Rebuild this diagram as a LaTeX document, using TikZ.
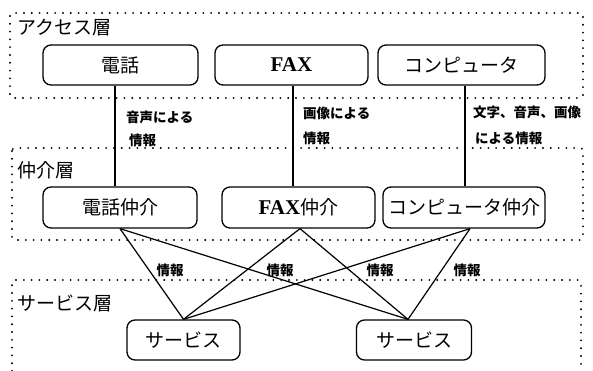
\documentclass[tikz,border=0pt]{standalone}
\usepackage{fontspec}
\setmainfont{Liberation Serif}
\newfontfamily\jp{Noto Sans CJK JP}
\tikzset{
  layerbox/.style={line width=2.1pt, line cap=round, dash pattern=on 0pt off 7.8pt},
  unitbox/.style={draw, line width=1.3pt, rounded corners=8pt, minimum height=40pt, inner sep=0pt, font=\jp\fontsize{19}{19}\selectfont},
  layerlabel/.style={anchor=west, inner sep=0pt, font=\jp\fontsize{19}{19}\selectfont},
  infolabel/.style={anchor=west, inner sep=0pt, font=\jp\bfseries\fontsize{13.5}{13.5}\selectfont},
  infoc/.style={inner sep=0pt, font=\jp\bfseries\fontsize{13.5}{13.5}\selectfont},
  latin/.style={},
  link/.style={line width=1.2pt}
}
\newcommand{\fax}{{\rmfamily\bfseries\fontsize{21}{21}\selectfont FAX}}
\begin{document}
\begin{tikzpicture}[x=1pt,y=-1pt]
\useasboundingbox[fill=white] (0,0) rectangle (593,371);
% layers
\draw[layerbox, rounded corners=3pt] (10,13) rectangle (583,98);
\draw[layerbox, rounded corners=3pt] (12,148) rectangle (583,240);
\draw[layerbox, rounded corners=3pt] (12,371) -- (12,280) -- (581,280) -- (581,371);
\node[layerlabel] (la) at (17,28) {アクセス層};
\node[layerlabel] (lm) at (17,170) {仲介層};
\node[layerlabel] (ls) at (17,303) {サービス層};
% access
\node[unitbox, minimum width=155pt] (t1) at (120.5,65) {電話};
\node[unitbox, minimum width=153pt] (t2) at (291.5,65) {\fax};
\node[unitbox, minimum width=167pt] (t3) at (461.5,65) {コンピュータ};
% mediation
\node[unitbox, minimum width=154pt, minimum height=41pt] (m1) at (120,207.5) {電話仲介};
\node[unitbox, minimum width=153pt, minimum height=41pt] (m2) at (298.5,207.5) {\fax 仲介};
\node[unitbox, minimum width=162pt, minimum height=41pt] (m3) at (464,207.5) {コンピュータ仲介};
% services
\node[unitbox, minimum width=113pt] (s1) at (183.5,340) {サービス};
\node[unitbox, minimum width=115pt] (s2) at (414,340) {サービス};
% vertical links
\draw[link] ([xshift=-5.5pt]t1.south) -- ([xshift=-5.5pt]t1.south |- m1.north);
\draw[link] ([xshift=1.5pt]t2.south) -- ([xshift=1.5pt]t2.south |- m2.north);
\draw[link] ([xshift=3.5pt]t3.south) -- ([xshift=3.5pt]t3.south |- m3.north);
\node[infolabel] (i1a) at (126,117) {音声による};
\node[infolabel] (i1b) at (129,140) {情報};
\node[infolabel] (i2a) at (303,113) {画像による};
\node[infolabel] (i2b) at (303,138) {情報};
\node[infolabel] (i3a) at (473,112) {文字、音声、画像};
\node[infolabel] (i3b) at (475,138) {による情報};
% cross links
\coordinate (c1) at (m1.south);
\coordinate (c2) at ([xshift=1.5pt]m2.south);
\coordinate (c3) at ([xshift=6pt]m3.south);
\coordinate (d1) at (s1.north);
\coordinate (d2) at ([xshift=-6pt]s2.north);
\draw[link] (c1) -- (d1);
\draw[link] (c1) -- (d2);
\draw[link] (c2) -- (d1);
\draw[link] (c2) -- (d2);
\draw[link] (c3) -- (d1);
\draw[link] (c3) -- (d2);
\node[infoc] (j1) at (170,270) {情報};
\node[infoc] (j2) at (280,270) {情報};
\node[infoc] (j3) at (380,270) {情報};
\node[infoc] (j4) at (467,270) {情報};
\end{tikzpicture}
\end{document}
